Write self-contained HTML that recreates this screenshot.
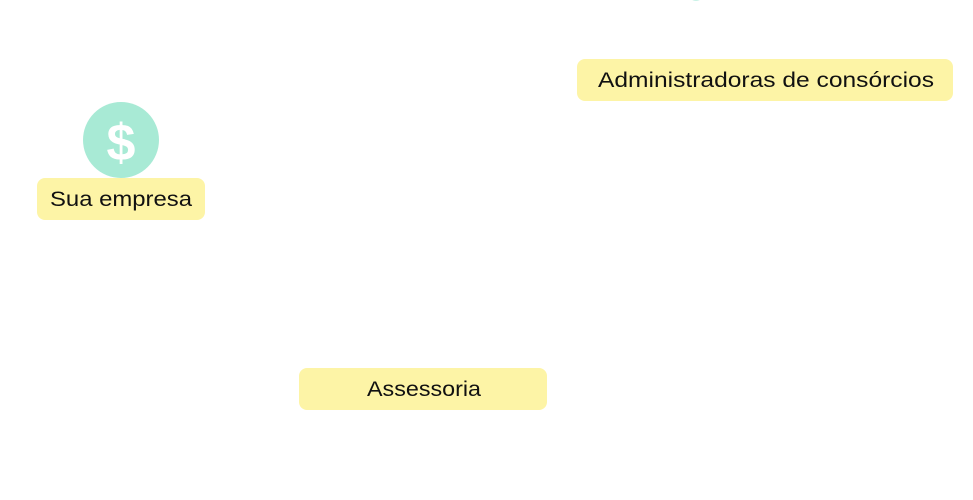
<!DOCTYPE html>
<html><head><meta charset="utf-8"><style>html,body{margin:0;padding:0;background:#fff;width:973px;height:500px;overflow:hidden}</style></head>
<body>
<svg width="973" height="500" viewBox="0 0 973 500" xmlns="http://www.w3.org/2000/svg" font-family="Liberation Sans, sans-serif" font-size="21" fill="#111">
<ellipse cx="696" cy="-2" rx="5" ry="3" fill="#c8f1e6"/>
<rect x="577" y="59" width="376" height="42" rx="8" fill="#fdf4a6"/>
<text x="598" y="87" textLength="336" lengthAdjust="spacingAndGlyphs">Administradoras de consórcios</text>
<circle cx="121" cy="140" r="38" fill="#a8ead5"/>
<text x="121" y="160" text-anchor="middle" font-size="52" font-weight="bold" fill="#fff">$</text>
<rect x="37" y="178" width="168" height="42" rx="8" fill="#fdf4a6"/>
<text x="50" y="206" textLength="142" lengthAdjust="spacingAndGlyphs">Sua empresa</text>
<rect x="299" y="368" width="248" height="42" rx="8" fill="#fdf4a6"/>
<text x="367" y="396" textLength="114" lengthAdjust="spacingAndGlyphs">Assessoria</text>
</svg>
</body></html>
